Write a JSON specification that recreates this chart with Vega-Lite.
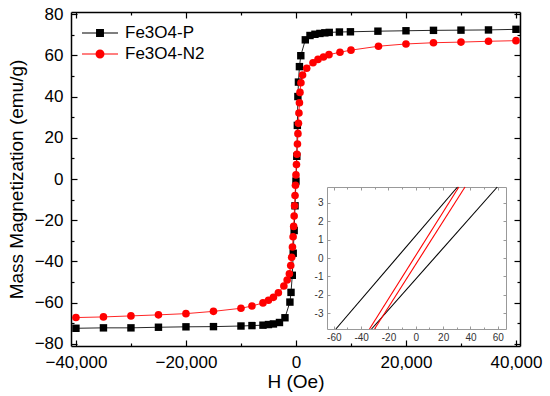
{
  "$schema": "https://vega.github.io/schema/vega-lite/v6.json",
  "width": 449,
  "height": 334,
  "autosize": "none",
  "padding": {"left": 71, "top": 12, "right": 30, "bottom": 50},
  "background": "white",
  "config": {
    "view": {"stroke": null},
    "font": "Liberation Sans",
    "axis": {
      "grid": false,
      "labelFont": "Liberation Sans",
      "titleFont": "Liberation Sans",
      "labelColor": "black",
      "titleColor": "black",
      "titleFontWeight": "normal",
      "domainColor": "black",
      "tickColor": "black",
      "zindex": 1
    },
    "legend": {
      "orient": "none", "legendX": 20, "legendY": 12, "title": null,
      "symbolSize": 324, "labelOffset": 16, "labelFontSize": 17, "labelFont": "Liberation Sans",
      "labelColor": "black", "rowPadding": 4, "padding": 0, "symbolStrokeWidth": 0, "symbolOpacity": 1
    }
  },
  "datasets": {
    "main": [
      {"s": "Fe3O4-P", "H": -40000, "M": -72.4},
      {"s": "Fe3O4-P", "H": -35000, "M": -72.2},
      {"s": "Fe3O4-P", "H": -30000, "M": -72.2},
      {"s": "Fe3O4-P", "H": -25000, "M": -71.9},
      {"s": "Fe3O4-P", "H": -20000, "M": -71.7},
      {"s": "Fe3O4-P", "H": -15000, "M": -71.6},
      {"s": "Fe3O4-P", "H": -10000, "M": -71.3},
      {"s": "Fe3O4-P", "H": -8000, "M": -71.1},
      {"s": "Fe3O4-P", "H": -6000, "M": -70.9},
      {"s": "Fe3O4-P", "H": -5000, "M": -70.6},
      {"s": "Fe3O4-P", "H": -4100, "M": -70.3},
      {"s": "Fe3O4-P", "H": -3000, "M": -69.6},
      {"s": "Fe3O4-P", "H": -2000, "M": -67.3},
      {"s": "Fe3O4-P", "H": -1100, "M": -59.7},
      {"s": "Fe3O4-P", "H": -900, "M": -55},
      {"s": "Fe3O4-P", "H": -670, "M": -46.7},
      {"s": "Fe3O4-P", "H": -500, "M": -36},
      {"s": "Fe3O4-P", "H": -330, "M": -25},
      {"s": "Fe3O4-P", "H": -170, "M": -13},
      {"s": "Fe3O4-P", "H": 0, "M": -1},
      {"s": "Fe3O4-P", "H": 150, "M": 11},
      {"s": "Fe3O4-P", "H": 250, "M": 26},
      {"s": "Fe3O4-P", "H": 350, "M": 40},
      {"s": "Fe3O4-P", "H": 450, "M": 47},
      {"s": "Fe3O4-P", "H": 630, "M": 54.5},
      {"s": "Fe3O4-P", "H": 880, "M": 59.8},
      {"s": "Fe3O4-P", "H": 1700, "M": 67.5},
      {"s": "Fe3O4-P", "H": 2550, "M": 69.6},
      {"s": "Fe3O4-P", "H": 3450, "M": 70.2},
      {"s": "Fe3O4-P", "H": 4350, "M": 70.6},
      {"s": "Fe3O4-P", "H": 5250, "M": 70.9},
      {"s": "Fe3O4-P", "H": 6050, "M": 71.1},
      {"s": "Fe3O4-P", "H": 7900, "M": 71.3},
      {"s": "Fe3O4-P", "H": 9900, "M": 71.4},
      {"s": "Fe3O4-P", "H": 14900, "M": 71.7},
      {"s": "Fe3O4-P", "H": 20000, "M": 71.9},
      {"s": "Fe3O4-P", "H": 25000, "M": 72.1},
      {"s": "Fe3O4-P", "H": 30000, "M": 72.2},
      {"s": "Fe3O4-P", "H": 35000, "M": 72.3},
      {"s": "Fe3O4-P", "H": 40000, "M": 72.6},
      {"s": "Fe3O4-N2", "H": -40000, "M": -67.2},
      {"s": "Fe3O4-N2", "H": -35000, "M": -66.9},
      {"s": "Fe3O4-N2", "H": -30000, "M": -66.4},
      {"s": "Fe3O4-N2", "H": -25000, "M": -65.9},
      {"s": "Fe3O4-N2", "H": -20000, "M": -65.3},
      {"s": "Fe3O4-N2", "H": -15000, "M": -64.2},
      {"s": "Fe3O4-N2", "H": -10000, "M": -62.7},
      {"s": "Fe3O4-N2", "H": -8000, "M": -61.6},
      {"s": "Fe3O4-N2", "H": -6000, "M": -60.1},
      {"s": "Fe3O4-N2", "H": -5000, "M": -58.8},
      {"s": "Fe3O4-N2", "H": -4100, "M": -57.4},
      {"s": "Fe3O4-N2", "H": -3200, "M": -55.2},
      {"s": "Fe3O4-N2", "H": -2200, "M": -51.9},
      {"s": "Fe3O4-N2", "H": -1600, "M": -49},
      {"s": "Fe3O4-N2", "H": -1200, "M": -46},
      {"s": "Fe3O4-N2", "H": -950, "M": -42},
      {"s": "Fe3O4-N2", "H": -780, "M": -38},
      {"s": "Fe3O4-N2", "H": -640, "M": -33},
      {"s": "Fe3O4-N2", "H": -520, "M": -28},
      {"s": "Fe3O4-N2", "H": -420, "M": -23},
      {"s": "Fe3O4-N2", "H": -330, "M": -18},
      {"s": "Fe3O4-N2", "H": -250, "M": -13},
      {"s": "Fe3O4-N2", "H": -170, "M": -8},
      {"s": "Fe3O4-N2", "H": -90, "M": -3},
      {"s": "Fe3O4-N2", "H": 0, "M": 2},
      {"s": "Fe3O4-N2", "H": 90, "M": 7},
      {"s": "Fe3O4-N2", "H": 180, "M": 12},
      {"s": "Fe3O4-N2", "H": 270, "M": 17},
      {"s": "Fe3O4-N2", "H": 360, "M": 22},
      {"s": "Fe3O4-N2", "H": 450, "M": 27},
      {"s": "Fe3O4-N2", "H": 540, "M": 32},
      {"s": "Fe3O4-N2", "H": 630, "M": 37},
      {"s": "Fe3O4-N2", "H": 730, "M": 42},
      {"s": "Fe3O4-N2", "H": 900, "M": 46.7},
      {"s": "Fe3O4-N2", "H": 1200, "M": 50.4},
      {"s": "Fe3O4-N2", "H": 1950, "M": 53.7},
      {"s": "Fe3O4-N2", "H": 3100, "M": 56.4},
      {"s": "Fe3O4-N2", "H": 4000, "M": 58},
      {"s": "Fe3O4-N2", "H": 5000, "M": 59.2},
      {"s": "Fe3O4-N2", "H": 6000, "M": 60.3},
      {"s": "Fe3O4-N2", "H": 8000, "M": 61.5},
      {"s": "Fe3O4-N2", "H": 10000, "M": 62.5},
      {"s": "Fe3O4-N2", "H": 15000, "M": 64.4},
      {"s": "Fe3O4-N2", "H": 20000, "M": 65.5},
      {"s": "Fe3O4-N2", "H": 25000, "M": 66.1},
      {"s": "Fe3O4-N2", "H": 30000, "M": 66.4},
      {"s": "Fe3O4-N2", "H": 35000, "M": 66.8},
      {"s": "Fe3O4-N2", "H": 40000, "M": 67.1}
    ],
    "inset": [
      {"s": "Fe3O4-P", "b": "P1", "x": -58.5, "y": -3.85},
      {"s": "Fe3O4-P", "b": "P1", "x": 30.5, "y": 3.85},
      {"s": "Fe3O4-P", "b": "P2", "x": -32.4, "y": -3.85},
      {"s": "Fe3O4-P", "b": "P2", "x": 59.6, "y": 3.85},
      {"s": "Fe3O4-N2", "b": "N1", "x": -33.9, "y": -3.85},
      {"s": "Fe3O4-N2", "b": "N1", "x": 31.5, "y": 3.85},
      {"s": "Fe3O4-N2", "b": "N2", "x": -30.2, "y": -3.85},
      {"s": "Fe3O4-N2", "b": "N2", "x": 36, "y": 3.85}
    ]
  },
  "layer": [
    {
      "mark": {"type": "rule", "color": "black", "strokeWidth": 1.3},
      "encoding": {
        "y": {
          "datum": 0, "type": "quantitative",
          "scale": {"domain": [-81, 81]},
          "axis": {
            "orient": "left",
            "values": [-80, -70, -60, -50, -40, -30, -20, -10, 0, 10, 20, 30, 40, 50, 60, 70, 80],
            "labelExpr": "datum.value % 20 === 0 ? format(datum.value, 'd') : ''",
            "tickSize": {"condition": {"test": "datum.value % 20 === 0", "value": -6}, "value": -3},
            "labelPadding": 14,
            "labelFontSize": 17,
            "domainWidth": 1.5,
            "tickWidth": 1.2,
            "title": "Mass Magnetization (emu/g)",
            "titleFontSize": 19,
            "titlePadding": 8
          }
        }
      }
    },
    {
      "mark": {"type": "rule", "color": "black", "strokeWidth": 1.3},
      "encoding": {
        "x": {
          "datum": 0, "type": "quantitative",
          "scale": {"domain": [-40900, 40730]},
          "axis": {
            "orient": "bottom",
            "values": [-40000, -30000, -20000, -10000, 0, 10000, 20000, 30000, 40000],
            "labelExpr": "datum.value % 20000 === 0 ? format(datum.value, ',') : ''",
            "tickSize": {"condition": {"test": "datum.value % 20000 === 0", "value": -6}, "value": -3},
            "labelPadding": 14,
            "labelFontSize": 17,
            "domainWidth": 1.5,
            "tickWidth": 1.2,
            "title": "H (Oe)",
            "titleFontSize": 19,
            "titlePadding": 2
          }
        }
      }
    },
    {
      "data": {"name": "main"},
      "encoding": {
        "x": {"field": "H", "type": "quantitative", "scale": {"domain": [-40900, 40730]},
              "axis": {"orient": "top", "values": [-40000, -30000, -20000, -10000, 0, 10000, 20000, 30000, 40000], "labels": false, "title": null, "domainWidth": 1.5, "tickWidth": 1.2,
                       "tickSize": {"condition": {"test": "datum.value % 20000 === 0", "value": -6}, "value": -3}}},
        "y": {"field": "M", "type": "quantitative", "scale": {"domain": [-81, 81]},
              "axis": {"orient": "right", "values": [-80, -70, -60, -50, -40, -30, -20, -10, 0, 10, 20, 30, 40, 50, 60, 70, 80], "labels": false, "title": null, "domainWidth": 1.5, "tickWidth": 1.2,
                       "tickSize": {"condition": {"test": "datum.value % 20 === 0", "value": -6}, "value": -3}}},
        "color": {
          "field": "s", "type": "nominal",
          "scale": {"domain": ["Fe3O4-P", "Fe3O4-N2"], "range": ["black", "#ff0000"]}
        }
      },
      "layer": [
        {
          "mark": {"type": "point", "filled": true, "size": 55, "opacity": 0},
          "encoding": {
            "shape": {
              "field": "s", "type": "nominal",
              "scale": {
                "domain": ["Fe3O4-P", "Fe3O4-N2"],
                "range": [
                  "M-2,-0.055H2V0.055H-2ZM-0.44,-0.44H0.44V0.44H-0.44Z",
                  "M-2,-0.055H2V0.055H-2ZM0.5,0A0.5,0.5,0,1,1,-0.5,0A0.5,0.5,0,1,1,0.5,0Z"
                ]
              }
            }
          }
        },
        {
          "mark": {"type": "line", "strokeWidth": 1, "opacity": 0.85}
        },
        {
          "transform": [{"filter": "datum.s === 'Fe3O4-P'"}],
          "mark": {"type": "point", "filled": true, "size": 55, "opacity": 1, "shape": "square"}
        },
        {
          "transform": [{"filter": "datum.s === 'Fe3O4-N2'"}],
          "mark": {"type": "point", "filled": true, "size": 58, "opacity": 1, "shape": "circle"}
        }
      ]
    },
    {
      "mark": {"type": "rect", "color": "white"},
      "encoding": {
        "x": {"datum": -65, "type": "quantitative", "scale": {"domain": [-65, 66], "range": [256, 435]},
              "axis": {"orient": "bottom", "offset": -17, "values": [-60, -50, -40, -30, -20, -10, 0, 10, 20, 30, 40, 50, 60],
                       "labelExpr": "datum.value % 20 === 0 ? '' + datum.value : ''", "labelFontSize": 10, "labelColor": "#333333",
                       "domainColor": "#999999", "tickColor": "#999999", "domainWidth": 1,
                       "tickSize": {"condition": {"test": "datum.value % 20 === 0", "value": -3}, "value": -2}, "labelPadding": 6, "title": null}},
        "x2": {"datum": 66},
        "y": {"datum": -3.85, "type": "quantitative", "scale": {"domain": [-3.85, 3.85], "range": [317, 175]},
              "axis": {"orient": "left", "offset": -256, "values": [-3, -2, -1, 0, 1, 2, 3],
                       "labelExpr": "'' + datum.value", "labelFontSize": 10, "labelColor": "#333333",
                       "domainColor": "#999999", "tickColor": "#999999", "domainWidth": 1,
                       "tickSize": -3, "labelPadding": 7, "title": null}},
        "y2": {"datum": 3.85}
      }
    },
    {
      "mark": {"type": "rule", "color": "#999999", "strokeWidth": 1.2},
      "encoding": {
        "x": {"datum": 0, "type": "quantitative", "scale": {"domain": [-65, 66], "range": [256, 435]},
              "axis": {"orient": "top", "offset": -175, "values": [-60, -50, -40, -30, -20, -10, 0, 10, 20, 30, 40, 50, 60],
                       "labels": false, "domainColor": "#999999", "tickColor": "#999999", "domainWidth": 1,
                       "tickSize": {"condition": {"test": "datum.value % 20 === 0", "value": -3}, "value": -2}, "title": null}},
        "y": {"datum": -3.85, "type": "quantitative", "scale": {"domain": [-3.85, 3.85], "range": [317, 175]},
              "axis": {"orient": "right", "offset": -14, "values": [-3, -2, -1, 0, 1, 2, 3],
                       "labels": false, "domainColor": "#999999", "tickColor": "#999999", "domainWidth": 1,
                       "tickSize": -3, "title": null}},
        "y2": {"datum": 3.85}
      }
    },
    {
      "mark": {"type": "rule", "color": "#999999", "strokeWidth": 1.2},
      "encoding": {
        "x": {"datum": -65, "type": "quantitative", "scale": {"domain": [-65, 66], "range": [256, 435]}, "axis": null},
        "x2": {"datum": 66},
        "y": {"datum": 0, "type": "quantitative", "scale": {"domain": [-3.85, 3.85], "range": [317, 175]}, "axis": null}
      }
    },
    {
      "data": {"name": "inset"},
      "mark": {"type": "line", "strokeWidth": 1.1},
      "encoding": {
        "x": {"field": "x", "type": "quantitative", "scale": {"domain": [-65, 66], "range": [256, 435]}, "axis": null},
        "y": {"field": "y", "type": "quantitative", "scale": {"domain": [-3.85, 3.85], "range": [317, 175]}, "axis": null},
        "detail": {"field": "b"},
        "color": {"field": "s", "type": "nominal", "scale": {"domain": ["Fe3O4-P", "Fe3O4-N2"], "range": ["black", "#ff0000"]}}
      }
    }
  ],
  "resolve": {
    "scale": {"x": "independent", "y": "independent"},
    "axis": {"x": "independent", "y": "independent"}
  }
}
